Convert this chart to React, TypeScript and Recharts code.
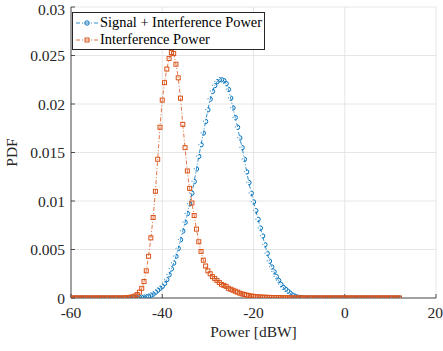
import { LineChart, Line, XAxis, YAxis, CartesianGrid, Legend } from 'recharts';

// power axis, dBW (bin centres)
const powerDbw = [
  -60, -59.5, -59, -58.5, -58, -57.5, -57, -56.5, -56, -55.5,
  -55, -54.5, -54, -53.5, -53, -52.5, -52, -51.5, -51, -50.5,
  -50, -49.5, -49, -48.5, -48, -47.5, -47, -46.5, -46, -45.5,
  -45, -44.5, -44, -43.5, -43, -42.5, -42, -41.5, -41, -40.5,
  -40, -39.5, -39, -38.5, -38, -37.5, -37, -36.5, -36, -35.5,
  -35, -34.5, -34, -33.5, -33, -32.5, -32, -31.5, -31, -30.5,
  -30, -29.5, -29, -28.5, -28, -27.5, -27, -26.5, -26, -25.5,
  -25, -24.5, -24, -23.5, -23, -22.5, -22, -21.5, -21, -20.5,
  -20, -19.5, -19, -18.5, -18, -17.5, -17, -16.5, -16, -15.5,
  -15, -14.5, -14, -13.5, -13, -12.5, -12, -11.5, -11, -10.5,
  -10, -9.5, -9, -8.5, -8, -7.5, -7, -6.5, -6, -5.5,
  -5, -4.5, -4, -3.5, -3, -2.5, -2, -1.5, -1, -0.5,
  0, 0.5, 1, 1.5, 2, 2.5, 3, 3.5, 4, 4.5,
  5, 5.5, 6, 6.5, 7, 7.5, 8, 8.5, 9, 9.5,
  10, 10.5, 11, 11.5, 12,
];

// Signal + Interference Power
const sipPdf = [
  0, 0, 0, 0, 0, 0, 0, 0, 0, 0,
  0, 0, 0, 0, 0, 0, 0, 0, 0, 0,
  0, 0, 0, 0, 0, 0.00001, 0.00001, 0.00002, 0.00003, 0.00004,
  0.00005, 0.00007, 0.0001, 0.00014, 0.0002, 0.0003, 0.0004, 0.0006, 0.0008, 0.001,
  0.0012, 0.0015, 0.0019, 0.0024, 0.003, 0.0036, 0.0043, 0.0051, 0.006, 0.0069,
  0.0078, 0.0087, 0.0097, 0.0108, 0.012, 0.0133, 0.0146, 0.0158, 0.017, 0.0182,
  0.0194, 0.0205, 0.0213, 0.0219, 0.0223, 0.0225, 0.0225, 0.0224, 0.0221, 0.0215,
  0.0206, 0.0196, 0.0186, 0.0176, 0.0165, 0.0155, 0.0143, 0.013, 0.0119, 0.0108,
  0.0099, 0.009, 0.0081, 0.0072, 0.0064, 0.0055, 0.0046, 0.0038, 0.0032, 0.0027,
  0.0022, 0.0018, 0.0014, 0.0011, 0.0009, 0.0007, 0.0005, 0.0003, 0.0002, 0.0001,
  0.00006, 0.00004, 0.00002, 0.00001, 0.00001, 0, 0, 0, 0, 0,
  0, 0, 0, 0, 0, 0, 0, 0, 0, 0,
  0, 0, 0, 0, 0, 0, 0, 0, 0, 0,
  0, 0, 0, 0, 0, 0, 0, 0, 0, 0,
  0, 0, 0, 0, 0,
];

// Interference Power
const ipPdf = [
  0, 0, 0, 0, 0, 0, 0, 0, 0, 0,
  0, 0, 0, 0, 0, 0, 0, 0, 0, 0,
  0, 0, 0, 0.00001, 0.00002, 0.00004, 0.00007, 0.00012, 0.0002, 0.00035,
  0.0006, 0.001, 0.0017, 0.0028, 0.0043, 0.0062, 0.0083, 0.011, 0.0143, 0.0176,
  0.0204, 0.0222, 0.0236, 0.0247, 0.0253, 0.0252, 0.0241, 0.0227, 0.0206, 0.0179,
  0.0155, 0.0131, 0.0113, 0.0098, 0.0085, 0.0071, 0.0058, 0.0048, 0.0039, 0.0033,
  0.0028, 0.0025, 0.0022, 0.002, 0.0018, 0.0016, 0.0014, 0.0013, 0.0012, 0.001,
  0.0009, 0.0008, 0.0007, 0.0006, 0.0005, 0.00042, 0.00036, 0.0003, 0.00025, 0.0002,
  0.00017, 0.00014, 0.00012, 0.0001, 0.00009, 0.00008, 0.00007, 0.00006, 0.00005, 0.00004,
  0.00004, 0.00003, 0.00003, 0.00002, 0.00002, 0.00002, 0.00001, 0.00001, 0.00001, 0.00001,
  0.00001, 0.00001, 0, 0, 0, 0, 0, 0, 0, 0,
  0, 0, 0, 0, 0, 0, 0, 0, 0, 0,
  0, 0, 0, 0, 0, 0, 0, 0, 0, 0,
  0, 0, 0, 0, 0, 0, 0, 0, 0, 0,
  0, 0, 0, 0, 0,
];

const xTicks = [-60, -40, -20, 0, 20];
const yTicks = [0, 0.005, 0.01, 0.015, 0.02, 0.025, 0.03];

const BLUE = '#0072BD';
const ORANGE = '#D95319';
const INK = '#262626';
const FONT = '"Liberation Serif", "Times New Roman", serif';

const chartData = powerDbw.map((p, i) => ({ power: p, sip: sipPdf[i], ip: ipPdf[i] }));

const SquareDot = (props: any) => {
  const { cx, cy, index } = props;
  if (cx == null || cy == null) return <g key={index} />;
  return (
    <rect key={index} x={cx - 2} y={cy - 2} width={4} height={4}
      fill="none" stroke={ORANGE} strokeWidth={1} />
  );
};

const XTitle = (props: any) => {
  const vb = props.viewBox;
  return (
    <text x={vb.x + vb.width / 2} y={337} textAnchor="middle" fontSize={15.5} fill={INK} fontFamily={FONT}>
      Power [dBW]
    </text>
  );
};

const YTitle = (props: any) => {
  const vb = props.viewBox;
  const cy = vb.y + vb.height / 2;
  return (
    <text x={17} y={cy} transform={`rotate(-90, 17, ${cy})`} textAnchor="middle" fontSize={15.5} fill={INK} fontFamily={FONT}>
      PDF
    </text>
  );
};

const legendItems = [
  { name: 'Signal + Interference Power', color: BLUE, shape: 'circle' },
  { name: 'Interference Power', color: ORANGE, shape: 'square' },
];

const LegendBox = () => (
  <div style={{ border: `1px solid ${INK}`, background: '#fff', padding: '1px 2px 1px 3px', fontFamily: FONT, fontSize: 14.4, color: '#000', lineHeight: '17px' }}>
    {legendItems.map((it) => (
      <div key={it.name} style={{ display: 'flex', alignItems: 'center', whiteSpace: 'nowrap' }}>
        <svg width={22} height={10} style={{ marginRight: 2 }}>
          <line x1={0} y1={5} x2={22} y2={5} stroke={it.color} strokeWidth={0.8} strokeDasharray="4 2 1 2" />
          {it.shape === 'circle'
            ? <circle cx={11} cy={5} r={2.2} fill="none" stroke={it.color} strokeWidth={1} />
            : <rect x={9} y={3} width={4} height={4} fill="none" stroke={it.color} strokeWidth={1} />}
        </svg>
        <span>{it.name}</span>
      </div>
    ))}
  </div>
);

export default function App() {
  const tickStyle = { fontSize: 15.5, fill: INK, fontFamily: FONT };
  return (
    <div style={{ position: 'absolute', left: 0, top: 0, background: '#fff' }}>
      <LineChart width={443} height={351} data={chartData} margin={{ top: 7, right: 7, left: 0, bottom: 0 }}>
        <CartesianGrid stroke="#e0e0e0" strokeWidth={0.8} />
        <XAxis dataKey="power" type="number" domain={[-60, 20]} ticks={xTicks} height={53}
          allowDataOverflow tick={tickStyle} tickSize={-4} tickMargin={13}
          axisLine={{ stroke: INK, strokeWidth: 0.8 }} tickLine={{ stroke: INK, strokeWidth: 0.8 }}
          label={{ content: XTitle }} />
        <XAxis xAxisId="top" orientation="top" type="number" domain={[-60, 20]} ticks={xTicks} height={0}
          allowDataOverflow tick={false} tickSize={-4}
          axisLine={{ stroke: INK, strokeWidth: 0.8 }} tickLine={{ stroke: INK, strokeWidth: 0.8 }} />
        <YAxis type="number" domain={[0, 0.03]} ticks={yTicks} width={71} allowDataOverflow
          tick={tickStyle} tickSize={-4} tickMargin={10}
          axisLine={{ stroke: INK, strokeWidth: 0.8 }} tickLine={{ stroke: INK, strokeWidth: 0.8 }}
          label={{ content: YTitle }} />
        <YAxis yAxisId="right" orientation="right" type="number" domain={[0, 0.03]} ticks={yTicks} width={0}
          allowDataOverflow tick={false} tickSize={-4}
          axisLine={{ stroke: INK, strokeWidth: 0.8 }} tickLine={{ stroke: INK, strokeWidth: 0.8 }} />
        <Legend layout="horizontal" verticalAlign="middle" align="center" content={LegendBox}
          wrapperStyle={{ position: 'absolute', left: 72, top: 12, width: 'auto' }} />
        <Line name="Signal + Interference Power" dataKey="sip" stroke={BLUE} strokeWidth={0.8}
          strokeDasharray="4 2 1 2" dot={{ r: 2.2, fill: 'none', stroke: BLUE, strokeWidth: 1 }}
          activeDot={false} isAnimationActive={false} />
        <Line name="Interference Power" dataKey="ip" stroke={ORANGE} strokeWidth={0.8}
          strokeDasharray="4 2 1 2" dot={SquareDot}
          activeDot={false} isAnimationActive={false} />
      </LineChart>
    </div>
  );
}
